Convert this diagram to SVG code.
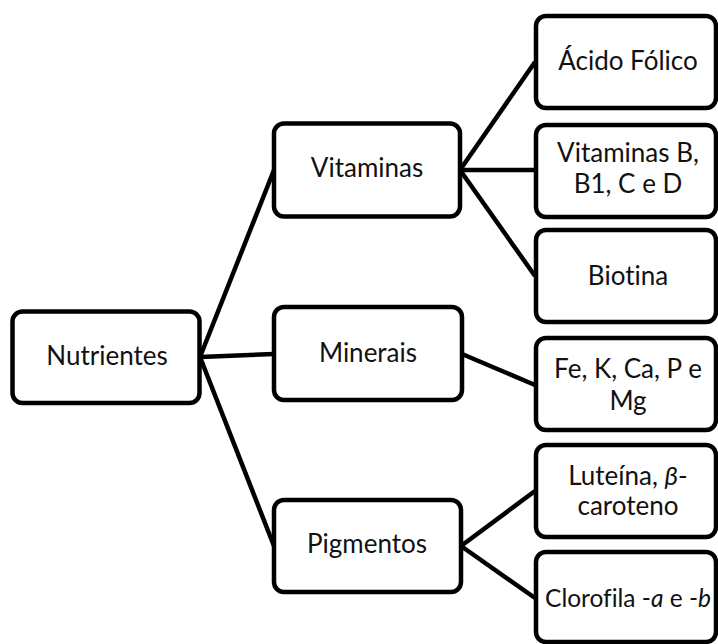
<svg xmlns="http://www.w3.org/2000/svg" width="718" height="644" viewBox="0 0 718 644">
<style>
.box{fill:#fff;stroke:#000;stroke-width:4.5}
.t{font-family:Lato,"Liberation Sans",sans-serif;font-size:26px;fill:#111;text-anchor:middle;font-variant-ligatures:none;font-feature-settings:"liga" 0}
.c{stroke:#000;stroke-width:4.5;fill:none}
</style>
<rect width="718" height="644" fill="#fff"/>
<g id="connectors">
<line class="c" x1="200" y1="357" x2="274" y2="170"/>
<line class="c" x1="200" y1="357" x2="274" y2="354"/>
<line class="c" x1="200" y1="357" x2="274" y2="546"/>
<line class="c" x1="460" y1="170" x2="535" y2="62"/>
<line class="c" x1="460" y1="170" x2="535" y2="170"/>
<line class="c" x1="460" y1="170" x2="535" y2="276"/>
<line class="c" x1="462" y1="354" x2="535" y2="385"/>
<line class="c" x1="461" y1="546" x2="535" y2="491"/>
<line class="c" x1="461" y1="546" x2="535" y2="598"/>
</g>
<g id="nutrientes"><rect class="box" x="12.5" y="311.5" width="187" height="91.5" rx="10"/><text class="t" x="107" y="365">Nutrientes</text></g>
<g id="vitaminas"><rect class="box" x="274" y="123.5" width="186" height="93" rx="10"/><text class="t" x="367" y="177">Vitaminas</text></g>
<g id="minerais"><rect class="box" x="274" y="307" width="188" height="93" rx="10"/><text class="t" x="368" y="362">Minerais</text></g>
<g id="pigmentos"><rect class="box" x="274" y="500" width="187" height="92" rx="10"/><text class="t" x="367" y="553">Pigmentos</text></g>
<g id="acido"><rect class="box" x="536" y="16" width="180" height="92" rx="10"/><text class="t" x="628" y="70">Ácido Fólico</text></g>
<g id="vitb"><rect class="box" x="536" y="125" width="180" height="92" rx="10"/><text class="t" x="628" y="162">Vitaminas B,</text><text class="t" x="628" y="193">B1, C e D</text></g>
<g id="biotina"><rect class="box" x="536" y="230" width="180" height="92" rx="10"/><text class="t" x="628" y="285">Biotina</text></g>
<g id="fe"><rect class="box" x="536" y="338" width="180" height="92" rx="10"/><text class="t" x="628" y="378">Fe, K, Ca, P e</text><text class="t" x="628" y="410">Mg</text></g>
<g id="luteina"><rect class="box" x="536" y="445" width="180" height="92" rx="10"/><text class="t" x="628" y="485">Luteína, <tspan font-style="italic">β</tspan>-</text><text class="t" x="628" y="515">caroteno</text></g>
<g id="clorofila"><rect class="box" x="536" y="552" width="180" height="90" rx="10"/><text class="t" x="628" y="607" style="font-size:24.5px">Clorofila -<tspan font-style="italic">a</tspan> e -<tspan font-style="italic">b</tspan></text></g>
</svg>
